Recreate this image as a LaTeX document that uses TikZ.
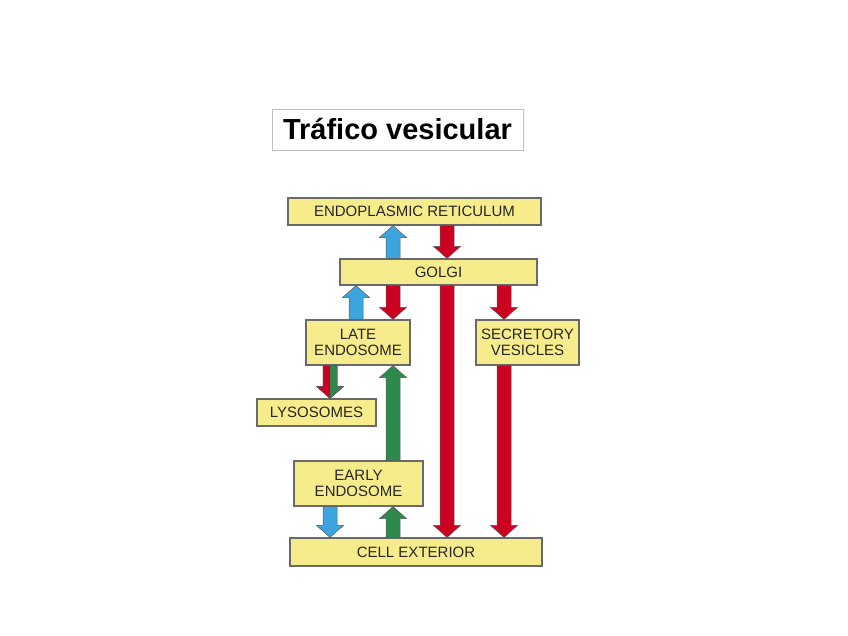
\documentclass[tikz,border=0pt]{standalone}
\usepackage{fontspec}
\setmainfont{Liberation Sans}
\usetikzlibrary{calc}
\definecolor{boxfill}{HTML}{F7EC8C}
\definecolor{boxline}{HTML}{6A6A6A}
\definecolor{abl}{HTML}{3DA5DD}
\definecolor{ard}{HTML}{CC0020}
\definecolor{agr}{HTML}{2E8A4C}
\definecolor{txt}{HTML}{262626}
\newcommand\barrow[4][]{%
  \draw[arrline, fill=#2, #1] let \p1=(#3), \p2=(#4), \n1={sign(\y2-\y1)*12} in
   (\x1-7pt,\y1) -- (\x1-7pt,\y2-\n1*1pt) -- (\x1-13.5pt,\y2-\n1*1pt) -- (\x1,\y2)
   -- (\x1+13.5pt,\y2-\n1*1pt) -- (\x1+7pt,\y2-\n1*1pt) -- (\x1+7pt,\y1) -- cycle;}
\newcommand\halfarrow[3]{%
  \fill[#1] let \p1=(#2), \p2=(#3), \n1={sign(\y2-\y1)*12} in
   (\x1-7pt,\y1) -- (\x1-7pt,\y2-\n1*1pt) -- (\x1-13.5pt,\y2-\n1*1pt) -- (\x1,\y2)
   -- (\x1,\y1) -- cycle;}
\tikzset{
  cellbox/.style={draw=boxline, line width=1.2pt, fill=boxfill, inner sep=0pt,
    align=center, text=txt, font=\fontsize{15}{16.5}\selectfont},
  arrline/.style={draw=black!65, line width=0.5pt, line join=miter},
}
\begin{document}
\begin{tikzpicture}[x=1pt,y=-1pt]
\useasboundingbox (0,0) rectangle (848,635);
\fill[white] (0,0) rectangle (848,635);
% title
\node[draw=black!25, line width=0.8pt, minimum width=251pt, minimum height=41pt, inner sep=0pt,
  font=\bfseries\fontsize{29}{34}\selectfont] (title) at (397.5,129.5) {Tráfico vesicular};
% boxes
\node[cellbox, minimum width=253pt, minimum height=27pt] (er) at (414.5,211.5) {ENDOPLASMIC RETICULUM};
\node[cellbox, minimum width=197pt, minimum height=26pt] (golgi) at (438.5,272) {GOLGI};
\node[cellbox, minimum width=104pt, minimum height=45pt] (late) at (358,342.5) {LATE\\ENDOSOME};
\node[cellbox, minimum width=103pt, minimum height=45pt] (sec) at (527.5,342.5) {SECRETORY\\VESICLES};
\node[cellbox, minimum width=119pt, minimum height=27pt] (lyso) at (316.5,412.5) {LYSOSOMES};
\node[cellbox, minimum width=129pt, minimum height=45pt] (early) at (358.5,483.5) {EARLY\\ENDOSOME};
\node[cellbox, minimum width=252pt, minimum height=28pt] (cell) at (416,552) {CELL EXTERIOR};
% arrow columns
\coordinate (cA) at (393,0);
\coordinate (cB) at (447,0);
\coordinate (cC) at (356,0);
\coordinate (cD) at (504,0);
\coordinate (cE) at (330,0);
% arrows
\barrow{abl}{golgi.north -| cA}{er.south -| cA}
\barrow{ard}{er.south -| cB}{golgi.north -| cB}
\barrow{abl}{late.north -| cC}{golgi.south -| cC}
\barrow{ard}{golgi.south -| cA}{late.north -| cA}
\barrow{ard}{golgi.south -| cB}{cell.north -| cB}
\barrow{ard}{golgi.south -| cD}{sec.north -| cD}
\barrow{agr}{late.south -| cE}{lyso.north -| cE}
\halfarrow{ard}{late.south -| cE}{lyso.north -| cE}
\barrow[fill=none]{agr}{late.south -| cE}{lyso.north -| cE}
\barrow{agr}{early.north -| cA}{late.south -| cA}
\barrow{ard}{sec.south -| cD}{cell.north -| cD}
\barrow{abl}{early.south -| cE}{cell.north -| cE}
\barrow{agr}{cell.north -| cA}{early.south -| cA}
\end{tikzpicture}
\end{document}
